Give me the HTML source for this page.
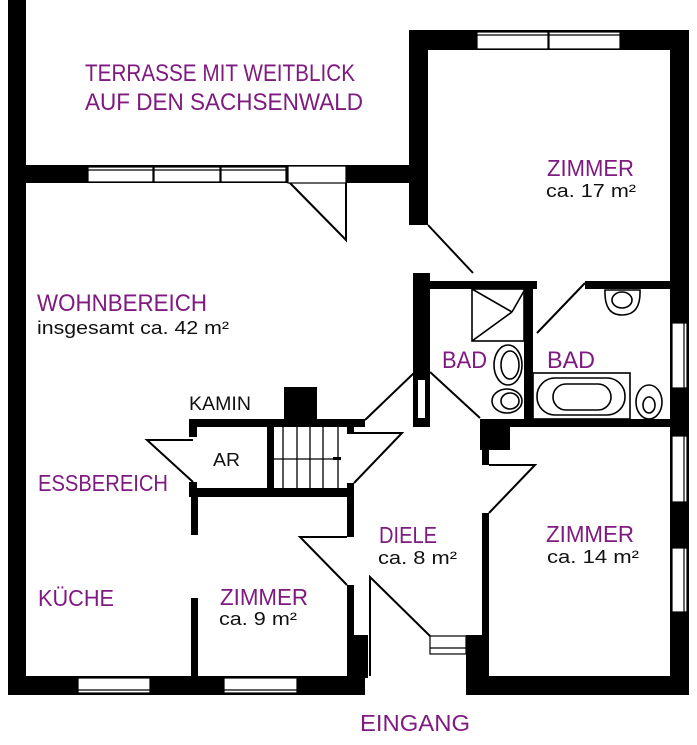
<!DOCTYPE html>
<html><head><meta charset="utf-8"><style>
html,body{margin:0;padding:0;background:#fff}
svg{display:block}
.p{fill:#7e1a80;font-family:"Liberation Sans",sans-serif}
.k{fill:#111;font-family:"Liberation Sans",sans-serif}
</style></head><body>
<svg width="697" height="745" viewBox="0 0 697 745" xmlns="http://www.w3.org/2000/svg">
<rect width="697" height="745" fill="#fff"/>
<g fill="#000">
<rect x="8" y="0" width="18" height="695"/>
<rect x="8" y="165" width="420" height="18"/>
<rect x="409" y="30" width="19" height="195"/>
<rect x="409" y="30" width="280" height="20"/>
<rect x="670" y="30" width="19" height="665"/>
<rect x="8" y="676" width="357" height="19"/>
<rect x="466" y="676" width="223" height="19"/>
<rect x="420" y="281" width="117" height="8"/>
<rect x="585" y="281" width="104" height="8"/>
<rect x="413" y="273" width="17" height="154"/>
<rect x="524" y="281" width="9" height="140"/>
<rect x="480" y="419" width="209" height="8"/>
<rect x="480" y="419" width="30" height="31"/>
<rect x="482" y="419" width="7" height="46"/>
<rect x="482" y="513" width="7" height="170"/>
<rect x="466" y="635" width="23" height="48"/>
<rect x="189" y="419" width="176" height="8"/>
<rect x="284" y="387" width="33" height="34"/>
<rect x="189" y="419" width="8" height="18"/>
<rect x="267" y="427" width="7" height="63"/>
<rect x="189" y="488" width="165" height="9"/>
<rect x="189" y="482" width="8" height="10"/>
<rect x="347" y="427" width="7" height="7"/>
<rect x="347" y="483" width="7" height="10"/>
<rect x="191" y="488" width="7" height="47"/>
<rect x="191" y="598" width="7" height="80"/>
<rect x="347" y="483" width="7" height="54"/>
<rect x="347" y="585" width="7" height="93"/>
<rect x="354" y="635" width="14" height="43"/>
<rect x="333" y="457" width="8" height="3"/>
</g>
<rect x="418" y="380" width="7" height="38" fill="#fff"/>
<g fill="#fff" stroke="#000" stroke-width="1.2">
<rect x="88" y="167" width="65" height="15"/>
<rect x="154" y="167" width="66" height="15"/>
<rect x="221" y="167" width="65" height="15"/>
<rect x="288" y="166" width="58" height="17"/>
<rect x="477" y="32" width="71" height="17"/>
<rect x="549" y="32" width="71" height="17"/>
<rect x="78" y="678" width="72" height="15"/>
<rect x="224" y="678" width="73" height="15"/>
<rect x="672" y="323" width="15" height="65"/>
<rect x="672" y="436" width="15" height="66"/>
<rect x="672" y="548" width="15" height="64"/>
<rect x="430" y="636" width="36" height="18"/>
</g>
<g stroke="#000" stroke-width="1.2" fill="none">
<line x1="88" y1="170" x2="286" y2="170"/>
<line x1="477" y1="35" x2="620" y2="35"/>
<line x1="78" y1="690" x2="297" y2="690"/>
<line x1="684" y1="323" x2="684" y2="388"/><line x1="684" y1="436" x2="684" y2="502"/><line x1="684" y1="548" x2="684" y2="612"/>
<line x1="430" y1="648" x2="466" y2="648"/>
</g>
<g stroke="#000" stroke-width="2" fill="none">
<polyline points="290,183 346,240 346,183"/>
<line x1="428" y1="225" x2="473" y2="273"/>
<line x1="585" y1="283" x2="537" y2="333"/>
<line x1="430" y1="372" x2="480" y2="418"/>
<polyline points="415,372 365,420"/>
<polyline points="193,482 147,440 193,440"/>
<polyline points="354,433 402,433 354,483"/>
<polyline points="489,465 535,465 489,513"/>
<polyline points="347,537 300,537 347,585"/>
<polyline points="370,676 370,577 430,636"/>
</g>
<g stroke="#000" stroke-width="1.3">
<line x1="283" y1="427" x2="283" y2="488"/><line x1="297" y1="427" x2="297" y2="488"/><line x1="310" y1="427" x2="310" y2="488"/><line x1="323" y1="427" x2="323" y2="488"/><line x1="338" y1="427" x2="338" y2="488"/>
<line x1="274" y1="459" x2="340" y2="459"/>
</g>
<g stroke="#000" stroke-width="1.6" fill="none">
<rect x="472" y="289" width="52" height="52"/>
<line x1="472" y1="289" x2="512" y2="312"/><line x1="524" y1="291" x2="512" y2="312"/><line x1="472" y1="341" x2="512" y2="312"/>
<ellipse cx="508" cy="365" rx="14" ry="20"/><ellipse cx="510" cy="365" rx="9" ry="14"/>
<ellipse cx="507" cy="401" rx="15" ry="12"/><ellipse cx="510" cy="401" rx="9" ry="8"/>
<rect x="533" y="373" width="97" height="46"/>
<rect x="537" y="378" width="88" height="37" rx="18"/>
<rect x="553" y="384" width="58" height="26" rx="13"/>
<ellipse cx="649" cy="402" rx="13" ry="17"/><ellipse cx="649" cy="405" rx="6" ry="8"/>
<path d="M605,290 Q604,315 622,315 Q641,315 640,290 Z"/><ellipse cx="622" cy="300" rx="10" ry="8"/>
</g>
<text class="p" x="85" y="81" font-size="24" textLength="270" lengthAdjust="spacingAndGlyphs">TERRASSE MIT WEITBLICK</text>
<text class="p" x="85" y="110" font-size="24" textLength="278" lengthAdjust="spacingAndGlyphs">AUF DEN SACHSENWALD</text>
<text class="p" x="547" y="176" font-size="23" textLength="87" lengthAdjust="spacingAndGlyphs">ZIMMER</text>
<text class="k" x="546" y="197" font-size="18" textLength="90" lengthAdjust="spacingAndGlyphs">ca. 17 m²</text>
<text class="p" x="37" y="311" font-size="24" textLength="170" lengthAdjust="spacingAndGlyphs">WOHNBEREICH</text>
<text class="k" x="37" y="334" font-size="18" textLength="192" lengthAdjust="spacingAndGlyphs">insgesamt ca. 42 m²</text>
<text class="p" x="442" y="368" font-size="24" textLength="45" lengthAdjust="spacingAndGlyphs">BAD</text>
<text class="p" x="547" y="368" font-size="24" textLength="48" lengthAdjust="spacingAndGlyphs">BAD</text>
<text class="k" x="189" y="410" font-size="19" textLength="62" lengthAdjust="spacingAndGlyphs">KAMIN</text>
<text class="k" x="213" y="466" font-size="18" textLength="27" lengthAdjust="spacingAndGlyphs">AR</text>
<text class="p" x="38" y="491" font-size="23" textLength="130" lengthAdjust="spacingAndGlyphs">ESSBEREICH</text>
<text class="p" x="379" y="543" font-size="23" textLength="58" lengthAdjust="spacingAndGlyphs">DIELE</text>
<text class="k" x="378" y="564" font-size="18" textLength="79" lengthAdjust="spacingAndGlyphs">ca. 8 m²</text>
<text class="p" x="546" y="542" font-size="23" textLength="88" lengthAdjust="spacingAndGlyphs">ZIMMER</text>
<text class="k" x="547" y="563" font-size="18" textLength="92" lengthAdjust="spacingAndGlyphs">ca. 14 m²</text>
<text class="p" x="38" y="606" font-size="23" textLength="76" lengthAdjust="spacingAndGlyphs">KÜCHE</text>
<text class="p" x="220" y="605" font-size="23" textLength="88" lengthAdjust="spacingAndGlyphs">ZIMMER</text>
<text class="k" x="219" y="625" font-size="18" textLength="78" lengthAdjust="spacingAndGlyphs">ca. 9 m²</text>
<text class="p" x="360" y="731" font-size="23" textLength="110" lengthAdjust="spacingAndGlyphs">EINGANG</text>
</svg>
</body></html>
